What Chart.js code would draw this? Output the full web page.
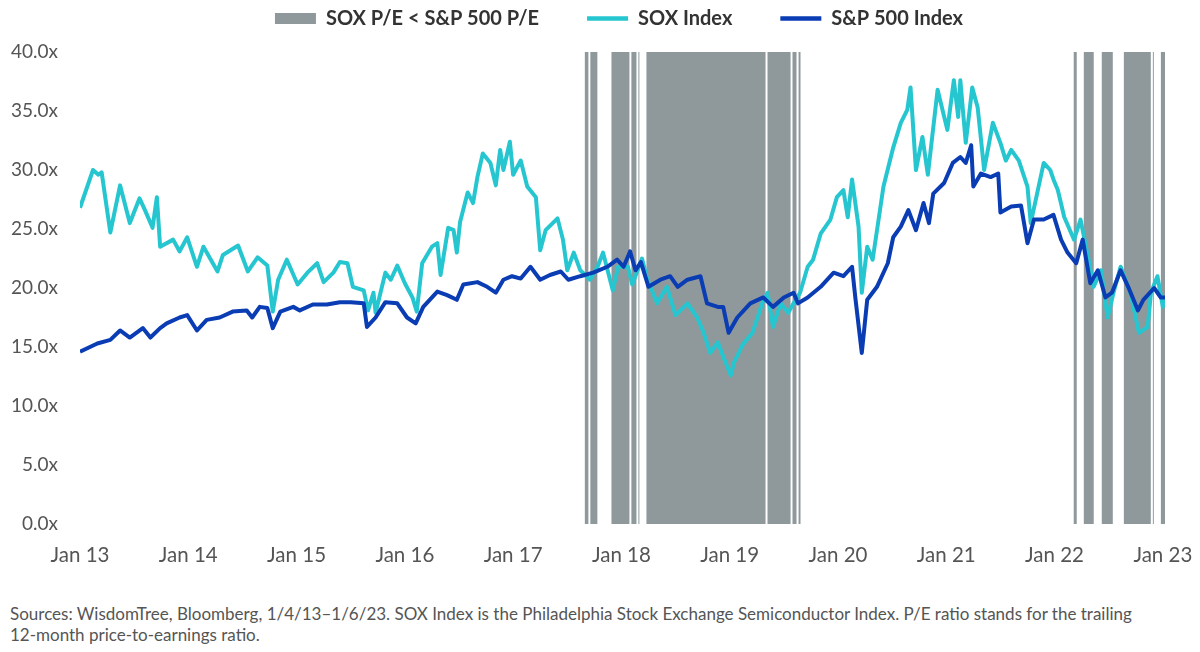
<!DOCTYPE html>
<html><head><meta charset="utf-8">
<script src="https://cdn.jsdelivr.net/npm/chart.js@4.4.0/dist/chart.umd.min.js"></script>
<style>
html,body{margin:0;padding:0;background:#fff;}
#wrap{position:relative;width:1200px;height:652px;overflow:hidden;background:#fff;}
#cw{position:absolute;left:0;top:0;width:1200px;height:590px;}
#note{position:absolute;left:10px;top:603px;white-space:nowrap;font-family:Lato,"Liberation Sans",sans-serif;font-size:17px;line-height:21px;color:#555;}
</style></head><body>
<div id="wrap">
<div id="cw"><canvas id="c"></canvas></div>
<div id="note">Sources: WisdomTree, Bloomberg, 1/4/13–1/6/23. SOX Index is the Philadelphia Stock Exchange Semiconductor Index. P/E ratio stands for the trailing<br>12-month price-to-earnings ratio.</div>
</div>
<script>
// ---- data (x in decimal years) ----
const soxX = [2013.00,2013.12,2013.17,2013.20,2013.28,2013.37,2013.46,2013.55,2013.60,2013.67,2013.71,2013.74,2013.86,2013.92,2013.99,
2014.08,2014.14,2014.27,2014.32,2014.46,2014.55,2014.64,2014.73,2014.78,2014.83,2014.91,
2015.01,2015.10,2015.19,2015.25,2015.34,2015.40,2015.47,2015.52,2015.62,2015.66,2015.71,2015.73,2015.82,2015.87,2015.93,
2016.00,2016.07,2016.11,2016.16,2016.25,2016.30,2016.33,2016.40,2016.45,2016.48,2016.51,2016.58,2016.63,2016.67,2016.72,2016.79,2016.84,2016.88,2016.91,2016.97,
2017.00,2017.07,2017.13,2017.21,2017.25,2017.30,2017.41,2017.46,2017.50,2017.56,2017.62,2017.71,2017.78,2017.83,2017.92,2017.97,
2018.06,2018.10,2018.19,2018.24,2018.33,2018.42,2018.50,2018.61,2018.70,2018.76,2018.82,2018.89,2018.94,
2019.01,2019.04,2019.12,2019.21,2019.30,2019.35,2019.40,2019.47,2019.54,2019.59,2019.65,2019.72,2019.77,2019.84,2019.93,2019.99,
2020.05,2020.09,2020.13,2020.19,2020.22,2020.27,2020.32,2020.42,2020.51,2020.58,2020.64,2020.67,2020.72,2020.78,2020.83,2020.92,
2021.01,2021.07,2021.11,2021.13,2021.18,2021.24,2021.29,2021.35,2021.43,2021.50,2021.55,2021.60,2021.67,2021.75,2021.78,2021.90,2021.96,2021.99,
2022.03,2022.09,2022.18,2022.24,2022.31,2022.36,2022.43,2022.49,2022.55,2022.61,2022.70,2022.78,2022.86,2022.89,2022.95,2023.00,2023.02];
const soxPE = [26.8,30.0,29.6,29.8,24.7,28.7,25.5,27.6,26.6,25.1,27.7,23.5,24.1,23.1,24.3,
21.8,23.5,21.4,22.8,23.6,21.4,22.6,21.9,18.0,20.7,22.4,
20.3,21.3,22.1,20.5,21.3,22.2,22.1,20.1,19.8,18.1,19.6,17.9,21.3,20.7,21.9,
20.4,19.2,18.0,22.1,23.5,23.8,21.1,25.1,24.9,23.0,25.6,28.1,27.2,29.4,31.4,30.6,28.7,31.7,30.0,32.4,
29.6,30.8,28.6,27.7,23.2,24.9,25.9,24.1,21.5,23.0,21.5,20.7,21.8,23.0,19.8,21.8,
21.8,20.3,22.5,20.7,18.7,20.1,17.7,18.7,17.5,16.2,14.5,15.4,14.2,
12.6,13.7,15.2,16.2,18.7,19.6,16.7,18.7,17.9,18.7,19.6,21.8,22.4,24.6,25.8,27.7,
28.3,26.0,29.2,25.2,19.6,23.5,22.4,28.6,31.9,34.0,35.1,37.0,30.0,32.8,29.6,36.8,
33.4,37.6,34.5,37.6,32.3,37.0,35.3,30.0,34.0,32.3,30.8,31.7,30.8,28.6,25.5,30.6,30.0,29.2,
28.3,26.0,24.1,25.8,22.6,20.1,21.5,17.5,19.8,21.8,19.6,16.2,16.7,19.6,21.0,18.4,19.2];

const spxX = [2013.00,2013.16,2013.28,2013.37,2013.46,2013.58,2013.65,2013.74,2013.80,2013.92,2013.99,
2014.08,2014.17,2014.29,2014.41,2014.54,2014.59,2014.66,2014.73,2014.78,2014.85,2014.97,
2015.03,2015.15,2015.28,2015.40,2015.50,2015.62,2015.65,2015.73,2015.82,2015.93,
2016.02,2016.10,2016.17,2016.30,2016.39,2016.48,2016.54,2016.67,2016.76,2016.84,2016.91,2016.99,
2017.07,2017.16,2017.25,2017.34,2017.44,2017.51,2017.62,2017.74,2017.87,2017.96,
2018.02,2018.08,2018.13,2018.18,2018.25,2018.36,2018.45,2018.52,2018.61,2018.73,2018.79,2018.89,2018.94,2018.99,
2019.07,2019.19,2019.31,2019.40,2019.50,2019.59,2019.63,2019.72,2019.84,2019.96,
2020.05,2020.13,2020.16,2020.22,2020.27,2020.36,2020.46,2020.51,2020.58,2020.65,2020.72,2020.79,2020.84,2020.88,2020.98,
2021.06,2021.13,2021.18,2021.23,2021.25,2021.32,2021.41,2021.48,2021.50,2021.60,2021.69,2021.75,2021.81,2021.90,2021.99,
2022.06,2022.12,2022.20,2022.26,2022.33,2022.40,2022.47,2022.53,2022.61,2022.68,2022.77,2022.82,2022.92,2022.98,2023.02];
const spxPE = [14.6,15.3,15.6,16.4,15.8,16.6,15.8,16.6,17.0,17.5,17.7,
16.4,17.3,17.5,18.0,18.1,17.5,18.4,18.3,16.6,18.0,18.4,
18.1,18.6,18.6,18.8,18.8,18.7,16.7,17.5,18.8,18.7,
17.5,17.0,18.4,19.7,19.4,19.0,20.3,20.5,20.1,19.6,20.7,21.0,
20.8,21.8,20.7,21.1,21.4,20.7,21.0,21.3,21.8,22.4,
21.8,23.1,21.5,22.2,20.1,20.7,21.0,20.1,20.7,21.0,18.7,18.4,18.4,16.2,
17.5,18.7,19.2,18.4,19.2,19.6,18.7,19.2,20.1,21.3,
21.0,21.8,19.2,14.5,19.0,20.1,22.1,24.3,25.2,26.6,24.9,27.2,25.5,28.0,28.9,
30.6,31.1,30.6,32.1,28.6,29.7,29.4,29.7,26.4,26.9,27.0,23.8,25.8,25.8,26.2,
24.1,23.0,22.1,24.1,20.4,21.5,19.2,19.6,21.5,20.1,18.1,19.0,20.0,19.2,19.2];

// periods where SOX P/E < S&P 500 P/E
const shadeStart = [2017.660,2017.713,2017.908,2018.092,2018.157,2018.231,2019.349,2019.580,2019.636,2022.177,2022.270,2022.436,2022.640,2022.908,2022.982];
const shadeEnd   = [2017.695,2017.778,2018.074,2018.139,2018.166,2019.331,2019.562,2019.617,2019.654,2022.205,2022.362,2022.538,2022.889,2022.917,2023.020];

const xTickYears = [2013,2014,2015,2016,2017,2018,2019,2020,2021,2022,2023];
const yTicks = [0,5,10,15,20,25,30,35,40];

const GRAY = '#8f999c', CYAN = '#26c6d0', BLUE = '#0a3cb4';
const FONT = 'Lato, "Liberation Sans", sans-serif';
const Y_MAX = 40;

const shadeData = [];
shadeStart.forEach((s, i) => {
  const e = shadeEnd[i];
  shadeData.push({x: s, y: 0}, {x: s, y: Y_MAX}, {x: e, y: Y_MAX}, {x: e, y: 0});
});
const soxData = soxX.map((x, i) => ({x, y: soxPE[i]}));
const spxData = spxX.map((x, i) => ({x, y: spxPE[i]}));

// legend: reserve a fixed band above the plot and place the row like the reference
const legendPlace = {
  id: 'legendPlace',
  beforeInit(chart) {
    const orig = chart.legend.fit;
    chart.legend.fit = function () { orig.call(this); this.height = 52; };
  },
  afterLayout(chart) {
    const lg = chart.legend;
    lg.top -= 39.5;
    lg.left += 36.5; lg.right += 36.5;
  }
};

new Chart(document.getElementById('c'), {
  type: 'line',
  data: {
    datasets: [
      {label: 'SOX P/E < S&P 500 P/E', data: shadeData, borderWidth: 0, pointRadius: 0,
       backgroundColor: GRAY, borderColor: GRAY, fill: 'origin', order: 3, tension: 0},
      {label: 'SOX Index', data: soxData, borderColor: CYAN, backgroundColor: CYAN,
       borderWidth: 4, pointRadius: 0, fill: false, order: 2, tension: 0, borderJoinStyle: 'round'},
      {label: 'S&P 500 Index', data: spxData, borderColor: BLUE, backgroundColor: BLUE,
       borderWidth: 4, pointRadius: 0, fill: false, order: 1, tension: 0, borderJoinStyle: 'round'}
    ]
  },
  options: {
    responsive: true, maintainAspectRatio: false, animation: false,
    layout: {padding: {left: 0, right: 35, top: 0, bottom: 22}},
    plugins: {
      tooltip: {enabled: false},
      legend: {
        position: 'top',
        labels: {
          usePointStyle: true, pointStyleWidth: 41, boxHeight: 11, padding: 48,
          color: '#333', font: {family: FONT, size: 20, weight: 'bold'},
          generateLabels: (chart) => chart.data.datasets.map((d, i) => ({
            text: d.label, fillStyle: d.backgroundColor, strokeStyle: d.borderColor,
            lineWidth: i === 0 ? 0 : 4.5, pointStyle: i === 0 ? 'rect' : 'line',
            hidden: false, datasetIndex: i, fontColor: '#333'
          }))
        }
      }
    },
    scales: {
      x: {
        type: 'linear', min: 2013, max: 2023.02,
        grid: {display: false, drawTicks: false}, border: {display: false},
        afterBuildTicks: (s) => { s.ticks = xTickYears.map(v => ({value: v})); },
        afterFit: (s) => { s.paddingLeft = 0; s.paddingRight = 0; s.height = 44; },
        ticks: {padding: 19, color: '#555', font: {family: FONT, size: 20.5},
          maxRotation: 0, autoSkip: false,
          callback: (v) => 'Jan ' + String(v).slice(2)}
      },
      y: {
        min: 0, max: Y_MAX,
        grid: {display: false, drawTicks: false}, border: {display: false},
        afterBuildTicks: (s) => { s.ticks = yTicks.map(v => ({value: v})); },
        afterFit: (s) => { s.width = 80; s.paddingTop = 0; s.paddingBottom = 0; },
        ticks: {padding: 22, color: '#555', font: {family: FONT, size: 19},
          callback: (v) => v.toFixed(1) + 'x'}
      }
    }
  },
  plugins: [legendPlace]
});
</script>
</body></html>
